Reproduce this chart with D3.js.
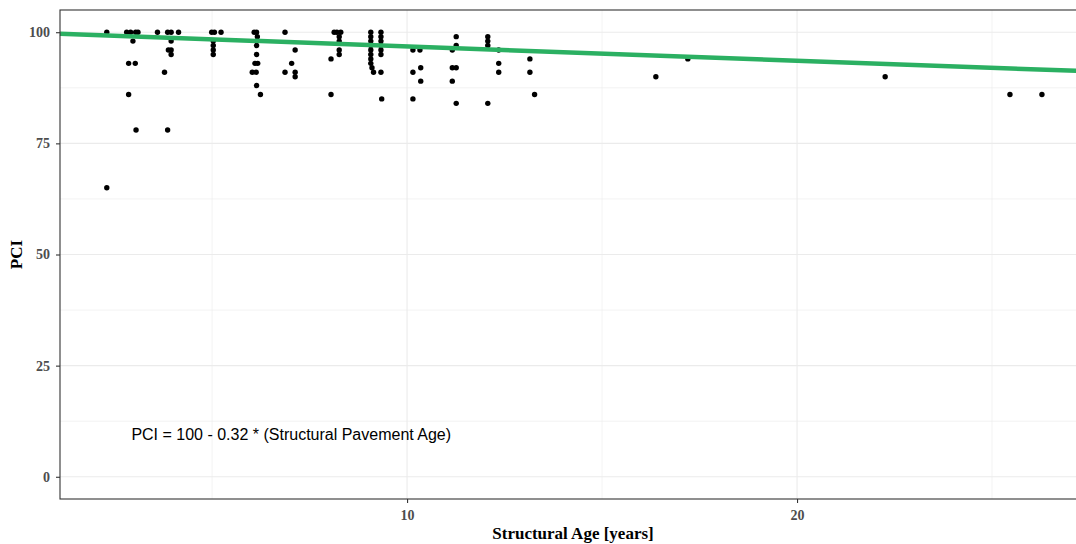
<!DOCTYPE html>
<meta charset="utf-8">
<head>
<style type='text/css'>
  body {
    margin: 0;
    background: #fff;
  }
  .axis-text {
    font-family: 'Liberation Serif', 'Times New Roman', serif;
    font-weight: bold;
    font-size: 14px;
    fill: #4d4d4d;
  }
  .axis-title {
    font-family: 'Liberation Serif', 'Times New Roman', serif;
    font-weight: bold;
    font-size: 17px;
    fill: #000;
  }
  .note {
    font-family: 'Liberation Sans', Arial, sans-serif;
    font-size: 16px;
    fill: #000;
  }
</style>
</head>
<body>
<div id="chart"></div>
<script src="https://d3js.org/d3.v7.min.js"></script>
<script>
// structural age [years] and PCI for each pavement section
var ages = [
  2.30, 2.30,
  2.81, 2.91, 2.86, 2.86, 2.97,
  3.04, 3.10, 3.03, 3.05,
  3.60, 3.78, 3.86, 3.95, 3.95, 3.88, 3.95, 3.95, 3.86,
  4.14,
  4.99, 5.06, 5.23, 5.03, 5.03, 5.03, 5.03,
  6.08, 6.14, 6.16, 6.14, 6.14, 6.14, 6.10, 6.17, 6.03, 6.13, 6.14, 6.24,
  6.87, 7.13, 7.04, 6.87, 7.13, 7.13,
  8.05, 8.05, 8.13, 8.20, 8.30, 8.26, 8.26, 8.26, 8.26,
  9.07, 9.07, 9.07, 9.07, 9.07, 9.07, 9.07, 9.07, 9.10, 9.14,
  9.33, 9.33, 9.33, 9.33, 9.33, 9.33, 9.33, 9.35,
  10.15, 10.33, 10.15, 10.35, 10.35, 10.15,
  11.26, 11.26, 11.16, 11.16, 11.26, 11.16, 11.26,
  12.07, 12.07, 12.07, 12.35, 12.35, 12.35, 12.07,
  13.15, 13.15, 13.27,
  16.38, 17.20, 22.26, 25.46, 26.28
];
var pci = [
  100, 65,
  100, 100, 93, 86, 98,
  100, 100, 93, 78,
  100, 91, 100, 100, 98, 96, 96, 95, 78,
  100,
  100, 100, 100, 98, 97, 96, 95,
  100, 100, 99, 98, 97, 95, 93, 93, 91, 91, 88, 86,
  100, 96, 93, 91, 91, 90,
  94, 86, 100, 100, 100, 99, 98, 96, 95,
  100, 99, 98, 97, 96, 95, 94, 93, 92, 91,
  100, 99, 98, 97, 96, 95, 91, 85,
  96, 96, 91, 92, 89, 85,
  99, 97, 96, 92, 92, 89, 84,
  99, 98, 97, 96, 93, 91, 84,
  94, 91, 86,
  90, 94, 90, 86, 86
];

// fitted model PCI = 100 - 0.32 * age
var intercept = 100,
    slope = -0.32;

var xTicks = [10, 20],
    xMinor = [5, 15, 25],
    yTicks = [0, 25, 50, 75, 100],
    yMinor = [12.5, 37.5, 62.5, 87.5];

var note = "PCI = 100 - 0.32 * (Structural Pavement Age)";

var width = 1076,
    height = 544,
    panel = {left: 60, right: 1086, top: 10, bottom: 499};

var svg = d3.select("#chart").append("svg")
    .attr("width", width)
    .attr("height", height);

var x = d3.scaleLinear()
    .domain([1.1, 27.41])
    .range([panel.left, panel.right]);

var y = d3.scaleLinear()
    .domain([-5, 105])
    .range([panel.bottom, panel.top]);

// grid lines
var grid = svg.append("g");

grid.selectAll(".ymin").data(yMinor).enter().append("line")
    .attr("x1", panel.left).attr("x2", panel.right)
    .attr("y1", function(d) { return y(d); })
    .attr("y2", function(d) { return y(d); })
    .attr("stroke", "#ebebeb").attr("stroke-width", 0.6);

grid.selectAll(".xmin").data(xMinor).enter().append("line")
    .attr("y1", panel.top).attr("y2", panel.bottom)
    .attr("x1", function(d) { return x(d); })
    .attr("x2", function(d) { return x(d); })
    .attr("stroke", "#ebebeb").attr("stroke-width", 0.6);

grid.selectAll(".ymaj").data(yTicks).enter().append("line")
    .attr("x1", panel.left).attr("x2", panel.right)
    .attr("y1", function(d) { return y(d); })
    .attr("y2", function(d) { return y(d); })
    .attr("stroke", "#ebebeb").attr("stroke-width", 1.1);

grid.selectAll(".xmaj").data(xTicks).enter().append("line")
    .attr("y1", panel.top).attr("y2", panel.bottom)
    .attr("x1", function(d) { return x(d); })
    .attr("x2", function(d) { return x(d); })
    .attr("stroke", "#ebebeb").attr("stroke-width", 1.1);

// points
var data = ages.map(function(a, i) { return {age: a, pci: pci[i]}; });

svg.append("g")
  .selectAll("circle")
    .data(data)
  .enter().append("circle")
    .attr("cx", function(d) { return x(d.age); })
    .attr("cy", function(d) { return y(d.pci); })
    .attr("r", 2.7)
    .attr("fill", "#000");

// regression line across the panel
var dom = x.domain();
svg.append("line")
    .attr("x1", x(dom[0]))
    .attr("y1", y(intercept + slope * dom[0]))
    .attr("x2", x(dom[1]))
    .attr("y2", y(intercept + slope * dom[1]))
    .attr("stroke", "#2bb062")
    .attr("stroke-width", 4.5);

// annotation
svg.append("text")
    .attr("class", "note")
    .attr("x", x(7.03))
    .attr("y", y(9.6))
    .attr("dy", "0.35em")
    .attr("text-anchor", "middle")
    .text(note);

// panel border
svg.append("rect")
    .attr("x", panel.left)
    .attr("y", panel.top)
    .attr("width", panel.right - panel.left)
    .attr("height", panel.bottom - panel.top)
    .attr("fill", "none")
    .attr("stroke", "#333")
    .attr("stroke-width", 1.1);

// axes
var yAxis = svg.append("g")
    .attr("transform", "translate(" + panel.left + ",0)")
    .call(d3.axisLeft(y).tickValues(yTicks).tickSize(4).tickPadding(6));

var xAxis = svg.append("g")
    .attr("transform", "translate(0," + panel.bottom + ")")
    .call(d3.axisBottom(x).tickValues(xTicks).tickSize(4).tickPadding(7));

[xAxis, yAxis].forEach(function(ax) {
  ax.select(".domain").remove();
  ax.selectAll(".tick line").attr("stroke", "#333").attr("stroke-width", 1.1);
  ax.selectAll(".tick text").attr("class", "axis-text").attr("fill", null)
      .attr("font-size", null).attr("font-family", null);
  ax.attr("font-size", null).attr("font-family", null);
});

// axis titles
svg.append("text")
    .attr("class", "axis-title")
    .attr("x", (panel.left + panel.right) / 2)
    .attr("y", 539)
    .attr("text-anchor", "middle")
    .text("Structural Age [years]");

svg.append("text")
    .attr("class", "axis-title")
    .attr("transform", "translate(22," + (panel.top + panel.bottom) / 2 + ") rotate(-90)")
    .attr("text-anchor", "middle")
    .text("PCI");
</script>
</body>
